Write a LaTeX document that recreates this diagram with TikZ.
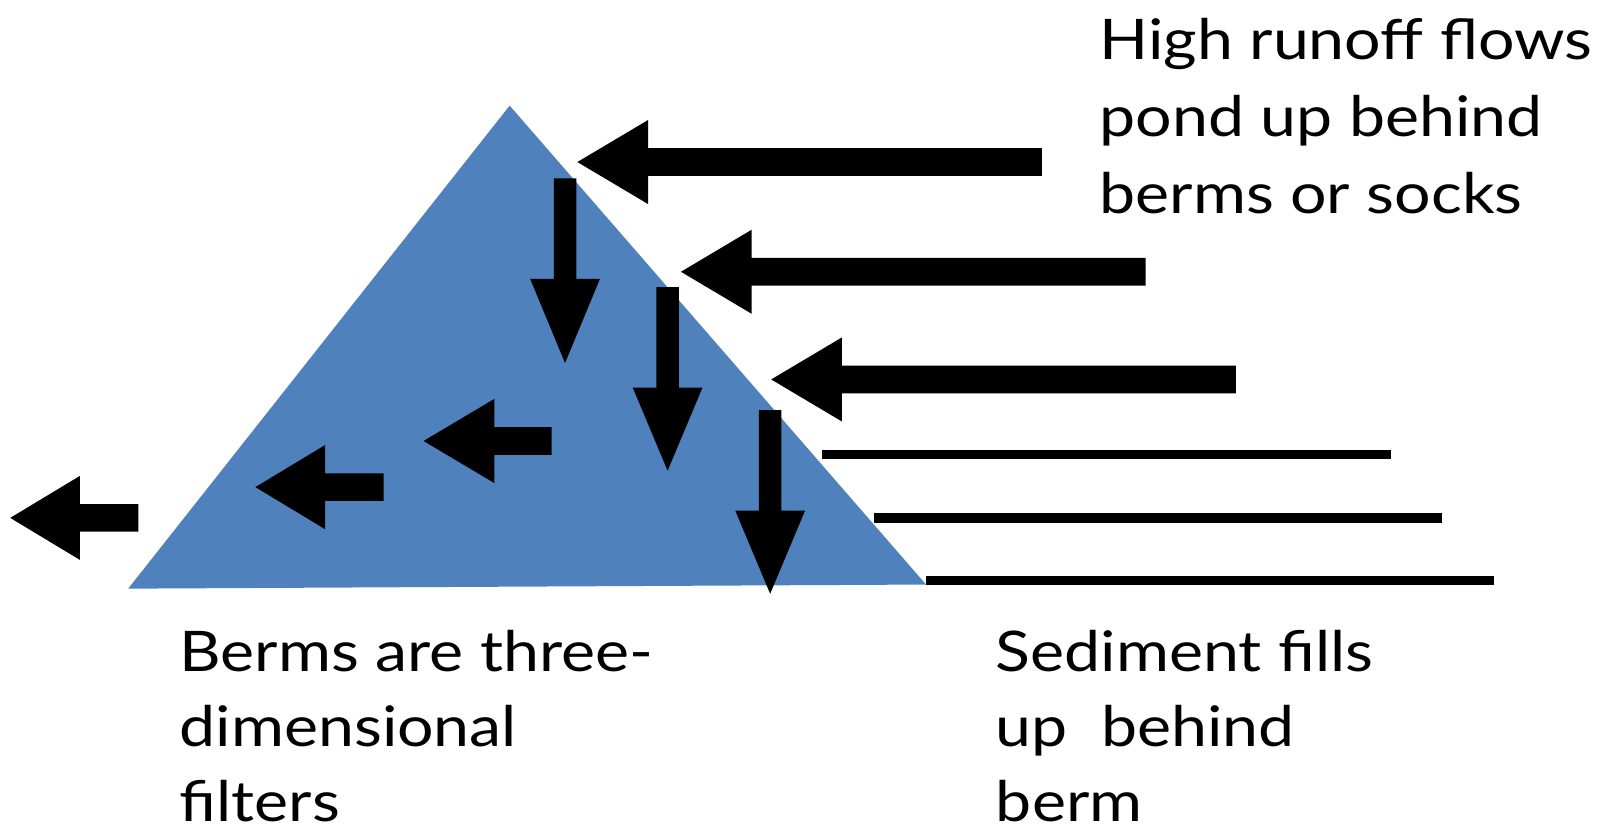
\documentclass[tikz,border=0pt]{standalone}
\usepackage{fontspec}
\setmainfont[FakeStretch=1.15]{Lato}
\definecolor{bermblue}{HTML}{4F81BD}
\newcommand\blkleft[5]{% name, tipx, tipy, headback x, end x
  \fill[arrowfill] (#2,#3) -- (#4,#3-41) -- (#4,#3-13.5) -- (#5,#3-13.5) -- (#5,#3+13.5) -- (#4,#3+13.5) -- (#4,#3+41) -- cycle;
  \coordinate (#1) at (#2,#3);}
\newcommand\blkdown[5]{% name, tipx, tipy, headtop y, shaft top y
  \fill[arrowfill] (#2,#3) -- (#2-34,#4) -- (#2-11,#4) -- (#2-11,#5) -- (#2+11,#5) -- (#2+11,#4) -- (#2+34,#4) -- cycle;
  \coordinate (#1) at (#2,#3);}
\begin{document}
\begin{tikzpicture}[x=1.02551pt,y=-1.02551pt,
  arrowfill/.style={fill=black},
  sedline/.style={line width=9.5pt},
  lbl/.style={anchor=base west,inner sep=0pt,font=\fontsize{56}{77}\selectfont}]
\useasboundingbox (0,0) rectangle (1568,807);
% berm
\fill[bermblue] (497,103) -- (903,570) -- (125,574) -- cycle;
% runoff arrows
\blkleft{a1}{563}{158}{632}{1016}
\blkleft{a2}{664}{265}{733}{1117}
\blkleft{a3}{752}{370}{821}{1205}
% filtered arrows
\blkleft{a4}{413}{430}{482}{538}
\blkleft{a5}{249}{475}{317}{374}
\blkleft{a6}{10}{505}{78}{135}
% downward arrows
\blkdown{d1}{551}{354}{272}{174}
\blkdown{d2}{651}{459}{378}{280}
\blkdown{d3}{751}{579}{498}{400}
% sediment lines
\coordinate (s1a) at (802,443); \coordinate (s1b) at (1356,443);
\coordinate (s2a) at (852,505); \coordinate (s2b) at (1406,505);
\coordinate (s3a) at (903,566); \coordinate (s3b) at (1457,566);
\draw[sedline] (s1a) -- (s1b);
\draw[sedline] (s2a) -- (s2b);
\draw[sedline] (s3a) -- (s3b);
% labels
\node[lbl] (t1) at (1072,58) {High runoff flows};
\node[lbl] (t2) at (1072,133) {pond up behind};
\node[lbl] (t3) at (1072,208) {berms or socks};
\node[lbl] (b1) at (175,655) {Berms are three-};
\node[lbl] (b2) at (175,728) {dimensional};
\node[lbl] (b3) at (175,801) {filters};
\node[lbl] (c1) at (971,655) {Sediment fills};
\node[lbl] (c2) at (971,728) {up~~behind};
\node[lbl] (c3) at (971,801) {berm};
\end{tikzpicture}
\end{document}
